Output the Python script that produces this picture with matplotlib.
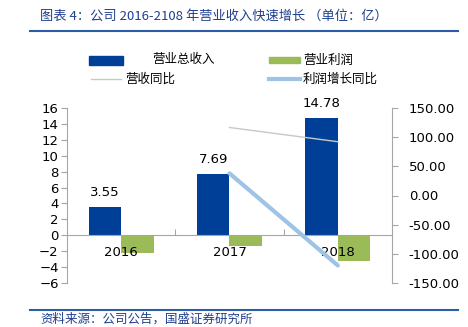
import matplotlib.pyplot as plt
from matplotlib.patches import Rectangle
from matplotlib.lines import Line2D

plt.rcParams['font.family'] = ['DejaVu Sans', 'Noto Sans CJK SC']
CJK = ['Noto Sans CJK SC', 'DejaVu Sans']

# ── Data ───────────────────────────────────────────────────────────────────────
years = ['2016', '2017', '2018']
revenue = [3.55, 7.69, 14.78]          # 营业总收入 (亿)
profit = [-2.2, -1.4, -3.2]            # 营业利润 (亿)
growth_years = [1, 2]                  # index of 2017, 2018
revenue_yoy = [116.6, 92.2]            # 营收同比 (%)
profit_yoy = [38.0, -120.0]            # 利润增长同比 (%)

c_blue = '#003f98'
c_green = '#9bbb59'
c_gray = '#c8c8c8'
c_lblue = '#9dc3e6'
c_title = '#1f3f8f'
c_rule = '#2e5da8'
c_axis = '#a6a6a6'

W, H = 468, 327
fig = plt.figure(figsize=(W / 100, H / 100), dpi=100)
ax = fig.add_axes([67 / W, 1 - 283 / H, (392 - 67) / W, (283 - 108) / H])
ax2 = ax.twinx()

# ── Bars ───────────────────────────────────────────────────────────────────────
x = list(range(len(years)))
ax.bar([i - 0.15 for i in x], revenue, width=0.3, color=c_blue, zorder=2)
ax.bar([i + 0.15 for i in x], profit, width=0.3, color=c_green, zorder=2)
for i, v in zip(x, revenue):
    ax.text(i - 0.15, v + 1.0, f'{v:.2f}', ha='center', va='bottom', fontsize=9.5)
for i, y in zip(x, years):
    ax.text(i, -2.2, y, ha='center', va='center', fontsize=9.5, zorder=3)

ax.set_xlim(-0.5, 2.5)
ax.set_ylim(-6, 16)
ax.set_yticks(range(-6, 17, 2))
ax.spines['top'].set_visible(False)
ax.spines['right'].set_visible(False)
ax.spines['left'].set_color(c_axis)
ax.spines['bottom'].set_position(('data', 0))
ax.spines['bottom'].set_color(c_axis)
ax.set_xticks([0.5, 1.5])
ax.tick_params(axis='x', direction='in', length=4, color=c_axis, labelbottom=False)
ax.tick_params(axis='y', direction='out', length=4, color=c_axis, labelsize=9.5, pad=2)

# ── Growth lines ───────────────────────────────────────────────────────────────
ax2.plot(growth_years, revenue_yoy, color=c_gray, lw=1)
ax2.plot(growth_years, profit_yoy, color=c_lblue, lw=3, solid_capstyle='round')
ax2.set_ylim(-150, 150)
ax2.set_yticks(range(-150, 151, 50))
ax2.set_yticklabels([f'{v:.2f}' for v in range(-150, 151, 50)])
for s in ['top', 'left', 'bottom']:
    ax2.spines[s].set_visible(False)
ax2.spines['right'].set_color(c_axis)
ax2.tick_params(axis='y', direction='out', length=4, color=c_axis, labelsize=9.5, pad=8)

# ── Legend (placed by hand) ────────────────────────────────────────────────────
def fx(px):
    return px / W

def fy(py):
    return 1 - py / H

fig.patches.append(Rectangle((fx(89), fy(65)), fx(123) - fx(89), 9 / H,
                             color=c_blue, transform=fig.transFigure))
fig.patches.append(Rectangle((fx(269), fy(63)), fx(300) - fx(269), 6 / H,
                             color=c_green, transform=fig.transFigure))
fig.lines.append(Line2D([fx(91), fx(121)], [fy(79), fy(79)], color=c_gray, lw=1,
                        transform=fig.transFigure))
fig.lines.append(Line2D([fx(269), fx(300)], [fy(79), fy(79)], color=c_lblue, lw=3,
                        transform=fig.transFigure))
fig.text(fx(152), fy(60), '营业总收入', family=CJK, fontsize=9, va='center')
fig.text(fx(303), fy(60), '营业利润', family=CJK, fontsize=9, va='center')
fig.text(fx(125), fy(79), '营收同比', family=CJK, fontsize=9, va='center')
fig.text(fx(303), fy(79), '利润增长同比', family=CJK, fontsize=9, va='center')

# ── Title / source ─────────────────────────────────────────────────────────────
fig.text(fx(40), fy(16), '图表 4：公司 2016-2108 年营业收入快速增长 （单位：亿）',
         family=CJK, fontsize=9.5, style='italic', color=c_title, va='center')
fig.lines.append(Line2D([fx(30), fx(458)], [fy(31), fy(31)], color=c_rule, lw=1.5,
                        transform=fig.transFigure))
fig.lines.append(Line2D([fx(30), fx(458)], [fy(310), fy(310)], color=c_rule, lw=1.5,
                        transform=fig.transFigure))
fig.text(fx(40), fy(319), '资料来源：公司公告，国盛证券研究所',
         family=CJK, fontsize=9, style='italic', color=c_title, va='center')

fig.savefig('out.png', dpi=100)
